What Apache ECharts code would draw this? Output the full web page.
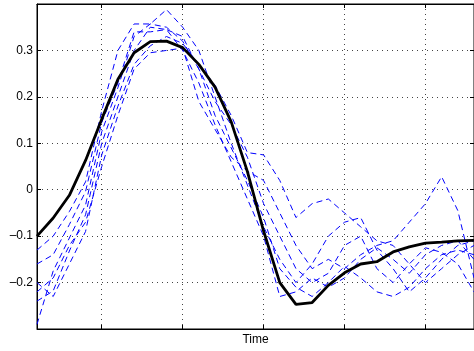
<!DOCTYPE html>
<html><head><meta charset="utf-8">
<script src="https://cdn.jsdelivr.net/npm/echarts@6/dist/echarts.min.js"></script>
<style>html,body{margin:0;padding:0;background:#fff;overflow:hidden}#c{width:474px;height:351px}</style>
</head><body><div id="c"></div>
<script>
// sample index (time)
var categories = [];
for (var i = 1; i <= 28; i++) categories.push(String(i));

var meanLine = [-0.100, -0.061, -0.012, 0.063, 0.152, 0.238, 0.295, 0.319, 0.320, 0.306, 0.270, 0.221, 0.146, 0.039, -0.089, -0.200, -0.247, -0.243, -0.206, -0.179, -0.160, -0.155, -0.134, -0.123, -0.115, -0.113, -0.110, -0.109];

var trial1 = [-0.29, -0.175, -0.104, -0.033, 0.125, 0.22, 0.33, 0.357, 0.35, 0.32, 0.26, 0.16, 0.09, 0.02, -0.06, -0.17, -0.21, -0.23, -0.20, -0.165, -0.19, -0.22, -0.23, -0.21, -0.17, -0.14, -0.13, -0.14];
var trial2 = [-0.24, -0.218, -0.132, -0.054, 0.10, 0.20, 0.30, 0.35, 0.345, 0.30, 0.23, 0.14, 0.06, -0.02, -0.10, -0.23, -0.22, -0.19, -0.21, -0.19, -0.15, -0.125, -0.15, -0.18, -0.14, -0.12, -0.11, -0.15];
var trial3 = [-0.20, -0.23, -0.16, -0.09, 0.075, 0.18, 0.27, 0.31, 0.33, 0.315, 0.27, 0.225, 0.16, 0.08, 0.075, 0.02, -0.06, -0.03, -0.02, -0.05, -0.08, -0.11, -0.12, -0.16, -0.20, -0.17, -0.14, -0.12];
var trial4 = [-0.13, -0.10, -0.047, 0.017, 0.17, 0.30, 0.357, 0.357, 0.388, 0.35, 0.30, 0.20, 0.10, 0.01, -0.08, -0.15, -0.20, -0.16, -0.10, -0.07, -0.06, -0.13, -0.17, -0.22, -0.19, -0.15, -0.12, -0.11];
var trial5 = [-0.16, -0.14, -0.075, -0.004, 0.145, 0.23, 0.34, 0.34, 0.345, 0.33, 0.26, 0.19, 0.14, 0.07, -0.03, -0.10, -0.17, -0.20, -0.18, -0.12, -0.10, -0.17, -0.20, -0.16, -0.125, -0.135, -0.16, -0.22];
var trial6 = [-0.22, -0.19, -0.12, -0.07, 0.05, 0.16, 0.26, 0.295, 0.30, 0.305, 0.19, 0.13, 0.07, 0.04, 0.02, -0.05, -0.12, -0.17, -0.15, -0.17, -0.14, -0.12, -0.11, -0.07, -0.03, 0.028, -0.045, -0.19];
var trials = [trial1, trial2, trial3, trial4, trial5, trial6];

var yMin = -0.3, yMax = 0.4, yStep = 0.1;
var xTickEvery = 5;
var xName = 'Time';

var FONT = 'Liberation Sans, Arial, Helvetica, sans-serif';
function tickIdx(i) { return (i + 1) % xTickEvery === 0; }
function yFmt(v) {
  if (Math.abs(v - yMax) < 1e-6 || Math.abs(v - yMin) < 1e-6) return '';
  var r = Math.round(v * 10) / 10;
  if (r === 0) return '0';
  return (r < 0 ? '\u2013' : '') + Math.abs(r).toFixed(1);
}

var series = trials.map(function (t) {
  return { type: 'line', data: t, symbol: 'none', silent: true, z: 2,
    lineStyle: { color: '#0000ff', width: 1, type: [6, 4] } };
});
series.push({ type: 'line', data: meanLine, symbol: 'none', silent: true, z: 3,
  lineStyle: { color: '#000000', width: 2.8 } });

var chart = echarts.init(document.getElementById('c'), null, { renderer: 'canvas' });
chart.setOption({
  animation: false,
  backgroundColor: '#ffffff',
  grid: { left: 37, right: -2, top: 4, bottom: 19, show: true, borderColor: '#000', borderWidth: 1, backgroundColor: 'transparent' },
  xAxis: [{
    type: 'category', data: categories, boundaryGap: false, position: 'bottom',
    name: xName, nameLocation: 'middle', nameGap: 5,
    nameTextStyle: { color: '#000', fontFamily: FONT, fontSize: 12, verticalAlign: 'top' },
    axisLine: { show: true, onZero: false, lineStyle: { color: '#000', width: 1 } },
    axisTick: { show: true, inside: true, length: 4, interval: tickIdx, lineStyle: { color: '#000' } },
    axisLabel: { show: false },
    splitLine: { show: true, interval: tickIdx, lineStyle: { color: '#444', width: 1, type: [1, 4] } }
  }, {
    type: 'category', data: categories, boundaryGap: false, position: 'top',
    axisLine: { show: true, onZero: false, lineStyle: { color: '#000', width: 1 } },
    axisTick: { show: true, inside: true, length: 4, interval: tickIdx, lineStyle: { color: '#000' } },
    axisLabel: { show: false }, splitLine: { show: false }
  }],
  yAxis: [{
    type: 'value', min: yMin, max: yMax, interval: yStep, position: 'left',
    axisLine: { show: true, onZero: false, lineStyle: { color: '#000', width: 1 } },
    axisTick: { show: true, inside: true, length: 4, lineStyle: { color: '#000' } },
    axisLabel: { show: true, formatter: yFmt, color: '#000', fontFamily: FONT, fontSize: 12, margin: 4 },
    splitLine: { show: true, lineStyle: { color: '#444', width: 1, type: [1, 4] } }
  }, {
    type: 'value', min: yMin, max: yMax, interval: yStep, position: 'right',
    axisLine: { show: true, onZero: false, lineStyle: { color: '#000', width: 1 } },
    axisTick: { show: true, inside: true, length: 4, lineStyle: { color: '#000' } },
    axisLabel: { show: false }, splitLine: { show: false }
  }],
  series: series
});
</script>
</body></html>
